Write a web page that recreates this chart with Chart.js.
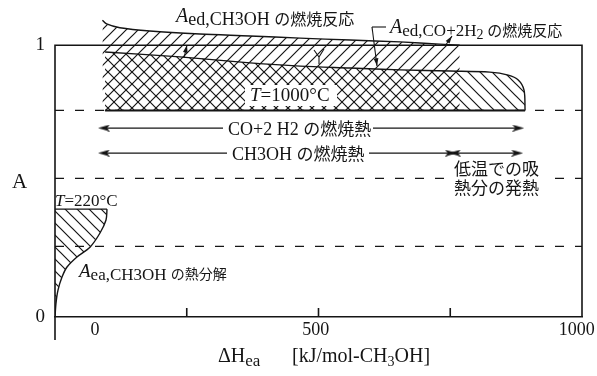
<!DOCTYPE html>
<html>
<head>
<meta charset="utf-8">
<script src="https://cdn.jsdelivr.net/npm/chart.js@4.4.1/dist/chart.umd.min.js"></script>
<style>
  html, body { margin: 0; padding: 0; background: #fff; }
  #wrap { width: 597px; height: 376px; }
</style>
</head>
<body>
<div id="wrap"><canvas id="chart" width="597" height="376"></canvas></div>
<script>
// --- values (x: kJ/mol, y: A) ---
const ch3ohTop = [
  {x: 90, y: 1.092}, {x: 98, y: 1.078}, {x: 123, y: 1.064}, {x: 180, y: 1.052},
  {x: 275, y: 1.041}, {x: 370, y: 1.034}, {x: 465, y: 1.026}, {x: 560, y: 1.019},
  {x: 655, y: 1.012}, {x: 730, y: 1.004}, {x: 768, y: 1.0}
];
const coTop = [
  {x: 95, y: 0.975}, {x: 237, y: 0.957}, {x: 370, y: 0.935}, {x: 465, y: 0.923},
  {x: 560, y: 0.916}, {x: 655, y: 0.909}, {x: 750, y: 0.905}, {x: 825, y: 0.901},
  {x: 860, y: 0.890}, {x: 879, y: 0.872}, {x: 890, y: 0.835}, {x: 892, y: 0.76}
];
const decompCurve = [
  {x: 0, y: 0}, {x: 1.9, y: 0.051}, {x: 5.7, y: 0.099}, {x: 13.3, y: 0.147},
  {x: 22.8, y: 0.184}, {x: 41.7, y: 0.221}, {x: 66.4, y: 0.257}, {x: 85.4, y: 0.309},
  {x: 96.8, y: 0.357}, {x: 98.7, y: 0.397}
];
const decompTop = 0.397;
const combustionBase = 0.76;
const baseSpan = [95, 892];
const dashLevels = [0.76, 0.51, 0.26];

const coHeat = [93, 879];
const ch3ohHeat = [93, 751];
const lowTempHeat = [759, 877];
const coHeatLevel = 0.695;
const ch3ohHeatLevel = 0.603;

const xTickValues = [76, 495, 990];
const xTickLabels = ["0", "500", "1000"];
const xMarkTicks = [250, 500, 750];
const yTickValues = [0, 1];
const yTickLabels = ["0", "1"];

const INK = "#151515";
const SERIF = '"Liberation Serif", "Noto Sans CJK JP", serif';
const JP = '"Noto Sans CJK JP", sans-serif';

// hatch patterns
function hatch(dir, gap) {
  const c = document.createElement("canvas");
  c.width = c.height = gap;
  const g = c.getContext("2d");
  g.strokeStyle = INK;
  g.lineWidth = 1.2;
  g.beginPath();
  if (dir === "/") {
    g.moveTo(-1, gap + 1); g.lineTo(gap + 1, -1);
    g.moveTo(-1, 1); g.lineTo(1, -1);
    g.moveTo(gap - 1, gap + 1); g.lineTo(gap + 1, gap - 1);
  } else {
    g.moveTo(-1, -1); g.lineTo(gap + 1, gap + 1);
    g.moveTo(gap - 1, -1); g.lineTo(gap + 1, 1);
    g.moveTo(-1, gap - 1); g.lineTo(1, gap + 1);
  }
  g.stroke();
  return g.createPattern(c, "repeat");
}

// slender arrow head, pointing right
function arrowHead() {
  const c = document.createElement("canvas");
  c.width = 12; c.height = 7;
  const g = c.getContext("2d");
  g.fillStyle = INK;
  g.beginPath();
  g.moveTo(12, 3.5); g.lineTo(0, 0); g.lineTo(3, 3.5); g.lineTo(0, 7);
  g.closePath();
  g.fill();
  return c;
}
const head = arrowHead();

function arrow(range, level, leftHead, rightHead) {
  return {
    data: [{x: range[0], y: level}, {x: range[1], y: level}],
    borderColor: INK, borderWidth: 1.2, fill: false,
    pointStyle: [leftHead ? head : false, rightHead ? head : false],
    pointRotation: [180, 0],
    pointRadius: [leftHead ? 6 : 0, rightHead ? 6 : 0]
  };
}

const datasets = [];
dashLevels.forEach(v => datasets.push({
  data: [{x: 0, y: v}, {x: 1000, y: v}],
  borderColor: INK, borderWidth: 1.1, borderDash: [9, 11], pointRadius: 0, fill: false
}));
datasets.push({
  data: ch3ohTop, borderColor: INK, borderWidth: 1.4, pointRadius: 0, tension: 0.3,
  fill: {value: combustionBase}, backgroundColor: hatch("/", 12)
});
datasets.push({
  data: coTop, borderColor: INK, borderWidth: 1.4, pointRadius: 0, tension: 0.3,
  fill: {value: combustionBase}, backgroundColor: hatch("\\", 12)
});
datasets.push({
  data: [{x: baseSpan[0], y: combustionBase}, {x: baseSpan[1], y: combustionBase}],
  borderColor: INK, borderWidth: 2, pointRadius: 0, fill: false
});
datasets.push({
  data: decompCurve, borderColor: INK, borderWidth: 1.4, pointRadius: 0, tension: 0.3,
  fill: {value: decompTop}, backgroundColor: hatch("\\", 12)
});
datasets.push({
  data: [{x: 0, y: decompTop}, {x: decompCurve[decompCurve.length - 1].x, y: decompTop}],
  borderColor: INK, borderWidth: 1.4, pointRadius: 0, fill: false
});
datasets.push(arrow(coHeat, coHeatLevel, true, true));
datasets.push(arrow(ch3ohHeat, ch3ohHeatLevel, true, true));
datasets.push(arrow(lowTempHeat, ch3ohHeatLevel, true, true));

// mixed-size text runs: [text, size, italic, dy, japanese]
function rich(ctx, x, y, parts) {
  let cx = x;
  parts.forEach(p => {
    const [t, size, italic, dy, jp] = p;
    ctx.font = (italic ? "italic " : "") + size + "px " + (jp ? JP : SERIF);
    ctx.fillText(t, cx, y + (dy || 0));
    cx += ctx.measureText(t).width;
  });
  return cx;
}
function blank(ctx, x, y, w, h) {
  ctx.fillStyle = "#fff";
  ctx.fillRect(x, y, w, h);
  ctx.fillStyle = INK;
}
function pointer(ctx, ax, ay, bx, by) {
  // small line ending in an arrow head at (bx, by)
  const a = Math.atan2(by - ay, bx - ax);
  ctx.beginPath();
  ctx.moveTo(ax, ay); ctx.lineTo(bx, by);
  ctx.stroke();
  ctx.beginPath();
  ctx.moveTo(bx, by);
  ctx.lineTo(bx - 8 * Math.cos(a - 0.3), by - 8 * Math.sin(a - 0.3));
  ctx.lineTo(bx - 8 * Math.cos(a + 0.3), by - 8 * Math.sin(a + 0.3));
  ctx.closePath();
  ctx.fill();
}

const decorations = {
  id: "decorations",
  afterDatasetsDraw(chart) {
    const ctx = chart.ctx;
    const xs = chart.scales.x, ys = chart.scales.y;
    const x0 = xs.getPixelForValue(0), x1 = xs.getPixelForValue(1000);
    const y0 = ys.getPixelForValue(0), y1 = ys.getPixelForValue(1);
    ctx.save();
    ctx.strokeStyle = INK;
    ctx.fillStyle = INK;
    ctx.lineWidth = 1.6;
    ctx.beginPath();
    ctx.moveTo(x0, y0 + 23); ctx.lineTo(x0, y1); ctx.lineTo(x1, y1); ctx.lineTo(x1, y0);
    xMarkTicks.forEach(v => {
      const px = xs.getPixelForValue(v);
      ctx.moveTo(px, y0); ctx.lineTo(px, y0 - 9);
    });
    ctx.stroke();

    // leader for CO+2H2 label
    ctx.lineWidth = 1.1;
    ctx.beginPath();
    ctx.moveTo(386, 27); ctx.lineTo(372, 27);
    ctx.stroke();
    pointer(ctx, 372, 27, 377, 66);
    // small pointers inside the upper band
    pointer(ctx, 184, 58, 187, 45);
    pointer(ctx, 445, 46, 452, 36);
    ctx.beginPath();
    ctx.moveTo(314, 50); ctx.lineTo(319, 57); ctx.lineTo(324, 49);
    ctx.moveTo(319, 57); ctx.lineTo(319, 64);
    ctx.stroke();

    ctx.textBaseline = "alphabetic";
    ctx.textAlign = "left";

    rich(ctx, 176, 22, [["A", 20, true], ["ed,CH3OH ", 18, false, 3], ["の燃焼反応", 16, false, 3, true]]);
    rich(ctx, 390, 33, [["A", 20, true], ["ed,CO+2H", 17, false, 3], ["2", 14, false, 6], [" ", 15, false, 3], ["の燃焼反応", 15, false, 3, true]]);

    blank(ctx, 245, 85, 92, 21);
    rich(ctx, 250, 101, [["T", 19, true], ["=1000°C", 19]]);

    blank(ctx, 223, 119, 150, 22);
    rich(ctx, 228, 135, [["CO+2 H2 ", 18], ["の燃焼熱", 17, false, 0, true]]);
    blank(ctx, 227, 144, 142, 22);
    rich(ctx, 232, 160, [["CH3OH ", 18], ["の燃焼熱", 17, false, 0, true]]);

    blank(ctx, 446, 160, 104, 38);
    rich(ctx, 454, 175, [["低温での吸", 17, false, 0, true]]);
    rich(ctx, 454, 194, [["熱分の発熱", 17, false, 0, true]]);

    rich(ctx, 55, 206, [["T", 17, true], ["=220°C", 17]]);
    rich(ctx, 79, 277, [["A", 19, true], ["ea,CH3OH ", 17, false, 3], ["の熱分解", 14, false, 2, true]]);

    rich(ctx, 12, 188, [["A", 21]]);
    rich(ctx, 218, 362, [["ΔH", 20], ["ea", 17, false, 4]]);
    rich(ctx, 292, 362, [["[kJ/mol-CH", 20], ["3", 14, false, 4], ["OH]", 20]]);
    ctx.restore();
  }
};

new Chart(document.getElementById("chart"), {
  type: "line",
  data: {datasets},
  options: {
    responsive: false,
    animation: false,
    devicePixelRatio: 1,
    layout: {padding: {top: 18, right: 15, left: 0, bottom: 0}},
    plugins: {legend: {display: false}, tooltip: {enabled: false}},
    scales: {
      x: {
        type: "linear", min: 0, max: 1000,
        afterBuildTicks: s => { s.ticks = xTickValues.map(v => ({value: v})); },
        afterFit: s => { s.height = 59; s.paddingLeft = 0; s.paddingRight = 0; },
        ticks: {
          autoSkip: false, maxRotation: 0, padding: 2, color: INK,
          font: {family: SERIF, size: 18},
          callback: (v, i) => xTickLabels[i]
        },
        grid: {display: false, drawTicks: false},
        border: {display: true, color: INK, width: 1.6}
      },
      y: {
        type: "linear", min: 0, max: 1.1,
        afterBuildTicks: s => { s.ticks = yTickValues.map(v => ({value: v})); },
        afterFit: s => { s.width = 55; s.paddingTop = 0; s.paddingBottom = 0; },
        ticks: {
          padding: 10, color: INK,
          font: {family: SERIF, size: 19},
          callback: (v, i) => yTickLabels[i]
        },
        grid: {display: false, drawTicks: false},
        border: {display: false}
      }
    }
  },
  plugins: [decorations]
});
</script>
</body>
</html>
